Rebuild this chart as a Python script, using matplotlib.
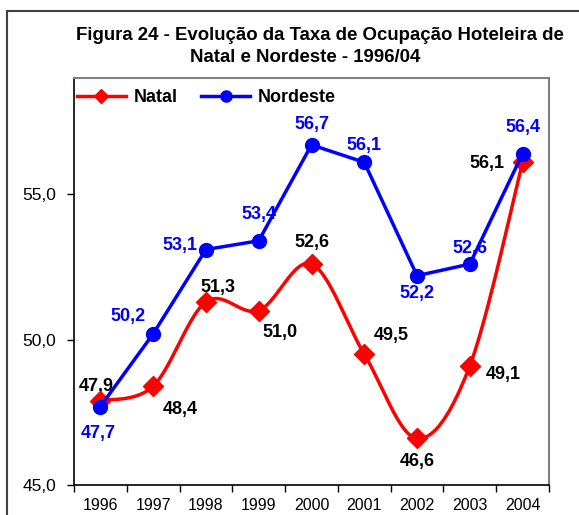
import numpy as np
import matplotlib.pyplot as plt
from matplotlib.patches import Rectangle
from matplotlib.lines import Line2D

plt.rcParams['font.family'] = ['Liberation Sans', 'DejaVu Sans']

anos = ['1996', '1997', '1998', '1999', '2000', '2001', '2002', '2003', '2004']
natal = [47.9, 48.4, 51.3, 51.0, 52.6, 49.5, 46.6, 49.1, 56.1]
nordeste = [47.7, 50.2, 53.1, 53.4, 56.7, 56.1, 52.2, 52.6, 56.4]

# deslocamento dos rotulos em pixels (x, y)
off_natal = [(-4, 14), (27, -23), (12, 14), (21, -22), (0, 22), (27, 19), (0, -23), (33, -9), (-36, -1)]
off_nordeste = [(-2, -27), (-25, 17), (-26, 4), (0, 26), (0, 20), (0, 17), (0, -18), (0, 16), (0, 26)]


def suaviza(x, y, n=30):
    # curva suavizada estilo Excel (bezier com tangentes de Catmull-Rom)
    x = np.asarray(x, float)
    y = np.asarray(y, float)
    px = np.concatenate(([x[0]], x, [x[-1]]))
    py = np.concatenate(([y[0]], y, [y[-1]]))
    xs, ys = [], []
    t = np.linspace(0, 1, n)
    for i in range(1, len(px) - 2):
        p0 = np.array([px[i], py[i]])
        p3 = np.array([px[i + 1], py[i + 1]])
        c1 = p0 + (np.array([px[i + 1], py[i + 1]]) - np.array([px[i - 1], py[i - 1]])) / 6
        c2 = p3 - (np.array([px[i + 2], py[i + 2]]) - np.array([px[i], py[i]])) / 6
        b = ((1 - t) ** 3)[:, None] * p0 + (3 * (1 - t) ** 2 * t)[:, None] * c1 \
            + (3 * (1 - t) * t ** 2)[:, None] * c2 + (t ** 3)[:, None] * p3
        xs.extend(b[:, 0])
        ys.extend(b[:, 1])
    return np.array(xs), np.array(ys)


fig = plt.figure(figsize=(5.79, 5.15), dpi=100)
ax = fig.add_axes([74 / 579, 1 - 485 / 515, (549 - 74) / 579, (485 - 78) / 515])

x = np.arange(len(anos))
sx, sy = suaviza(x, natal)
ax.plot(sx, sy, color='#ff0000', lw=2.5, zorder=3)
ax.plot(x, natal, ls='none', marker='D', ms=10.5, color='#ff0000', zorder=4)
ax.plot(x, nordeste, color='#0000ff', lw=2.5, marker='o', ms=10, zorder=5)

for xi, v, (dx, dy) in zip(x, natal, off_natal):
    ax.annotate(('%.1f' % v).replace('.', ','), (xi, v), xytext=(dx, dy),
                textcoords='offset pixels', ha='center', va='center',
                fontsize=13, fontweight='bold', color='black')
for xi, v, (dx, dy) in zip(x, nordeste, off_nordeste):
    ax.annotate(('%.1f' % v).replace('.', ','), (xi, v), xytext=(dx, dy),
                textcoords='offset pixels', ha='center', va='center',
                fontsize=13, fontweight='bold', color='#0000ff')

ax.set_xlim(-0.5, len(anos) - 0.5)
ax.set_ylim(45, 59)
ax.set_yticks([45, 50, 55])
ax.set_yticklabels(['45,0', '50,0', '55,0'], fontsize=12.5)
ax.set_xticks(np.arange(-0.5, len(anos), 1))
ax.set_xticklabels([])
ax.set_xticks(x, minor=True)
ax.set_xticklabels(anos, minor=True, fontsize=11.5)
ax.tick_params(axis='x', which='minor', length=0, pad=9)
ax.tick_params(axis='both', which='major', direction='out', length=5, width=1)
ax.tick_params(axis='y', pad=8)
for lado in ('top', 'right'):
    ax.spines[lado].set_color('#808080')
    ax.spines[lado].set_linewidth(1.5)
for lado in ('left', 'bottom'):
    ax.spines[lado].set_color('black')
    ax.spines[lado].set_linewidth(1.2)

h1 = Line2D([], [], color='#ff0000', lw=2.5, marker='D', ms=7.5)
h2 = Line2D([], [], color='#0000ff', lw=2.5, marker='o', ms=8)
fig.legend([h1, h2], ['Natal', 'Nordeste'], loc='center left',
           bbox_to_anchor=(77 / 579, 1 - 98 / 515), ncol=2, frameon=False,
           prop={'weight': 'bold', 'size': 13}, handlelength=2.7,
           handletextpad=0.45, columnspacing=1.3, borderpad=0, borderaxespad=0)

fig.text(320 / 579, 1 - 35 / 515, 'Figura 24 - Evolução da Taxa de Ocupação Hoteleira de',
         ha='center', va='center', fontsize=13.4, fontweight='bold')
fig.text(305 / 579, 1 - 58 / 515, 'Natal e Nordeste - 1996/04',
         ha='center', va='center', fontsize=13.4, fontweight='bold')

fig.patches.append(Rectangle((7 / 579, -0.1), 1.0, 1 - 11 / 515 + 0.1,
                             transform=fig.transFigure, fill=False,
                             edgecolor='#404040', lw=1.5))

plt.savefig('out.png', dpi=100)
